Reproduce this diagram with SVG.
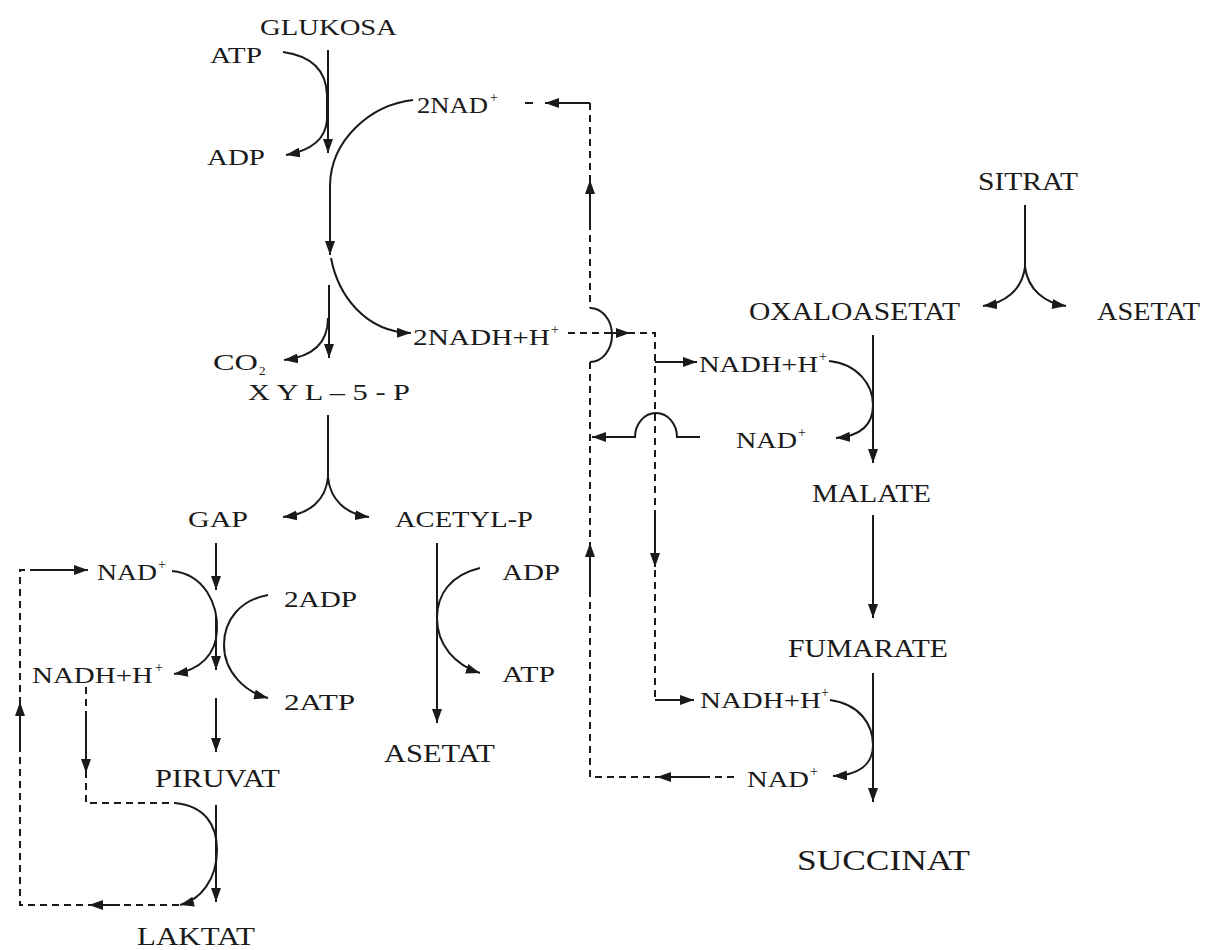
<svg xmlns="http://www.w3.org/2000/svg" width="1207" height="950" viewBox="0 0 1207 950">
<style>
text{font-family:"Liberation Serif","Times New Roman",serif;fill:#1a1a1a;font-size:23px}
.b{font-size:25px}
.xl{font-size:30px}
.sup{font-size:14px}
.s{fill:none;stroke:#1a1a1a;stroke-width:2}
.d{fill:none;stroke:#1a1a1a;stroke-width:2;stroke-dasharray:7,5}
.a{marker-end:url(#ah)}
</style>
<defs>
<marker id="ah" viewBox="0 0 14 10" markerWidth="14" markerHeight="10" refX="14" refY="5" orient="auto" markerUnits="userSpaceOnUse">
<path d="M0,0 L14,5 L0,10 z" fill="#1a1a1a"/>
</marker>
</defs>
<rect width="1207" height="950" fill="#fff"/>
<g id="connectors">
<path class="s a" d="M328,50 L328,153"/>
<path class="s a" d="M283,52 Q326,58 327,95 L327,120 Q325,148 286,155"/>
<path class="s a" d="M413,100 C370,105 331,140 330,185 L330,255"/>
<path class="s a" d="M331,258 C338,295 365,332 411,333"/>
<path class="s a" d="M329,285 L329,358"/>
<path class="s a" d="M328,318 C328,345 310,357 284,360"/>
<path class="s" d="M328,415 L328,477"/>
<path class="s a" d="M328,477 C326,500 310,514 283,517"/>
<path class="s a" d="M328,477 C330,500 346,514 369,517"/>
<path class="s a" d="M216,543 L216,590"/>
<path class="s a" d="M172,571 C205,574 218,605 217,630 C216,655 200,670 174,674"/>
<path class="s a" d="M216,615 L216,670"/>
<path class="s a" d="M268,595 C240,600 224,620 224,645 C224,672 245,692 268,698"/>
<path class="s a" d="M216,698 L216,752"/>
<path class="s a" d="M216,805 L216,902"/>
<path class="s a" d="M175,803 C205,806 217,825 217,850 C217,880 200,900 180,905"/>
<path class="d" d="M86,687 L86,803 L175,803"/>
<path class="s a" d="M86,713 L86,773"/>
<path class="d" d="M179,905 L20,905 L20,570 L35,570"/>
<path class="s a" d="M120,905 L89,905"/>
<path class="s a" d="M20,747 L20,702"/>
<path class="s a" d="M35,570 L88,570"/>
<path class="s a" d="M437,543 L437,723"/>
<path class="s a" d="M480,568 C450,575 437,595 437,618 C437,645 455,665 480,673"/>
<path class="s" d="M1025,205 L1025,267"/>
<path class="s a" d="M1025,267 C1022,290 1005,303 983,306"/>
<path class="s a" d="M1025,267 C1028,290 1045,303 1066,306"/>
<path class="s a" d="M873,335 L873,463"/>
<path class="s a" d="M829,361 C858,364 873,385 873,405 C873,425 860,436 836,438"/>
<path class="s a" d="M873,515 L873,618"/>
<path class="s a" d="M873,673 L873,802"/>
<path class="s a" d="M830,700 C860,704 873,725 873,745 C873,765 858,775 833,776"/>
<path class="s" d="M525,103 L533,103"/>
<path class="s a" d="M590,103 L545,103"/>
<path class="d" d="M590,103 L590,308"/>
<path class="s a" d="M590,230 L590,180"/>
<path class="s" d="M590,308 A22,27 0 0 1 590,362"/>
<path class="d" d="M590,362 L590,777 L735,777"/>
<path class="s a" d="M590,597 L590,543"/>
<path class="s a" d="M703,777 L657,777"/>
<path class="d" d="M568,333 L655,333 L655,700"/>
<path class="s a" d="M608,333 L630,333"/>
<path class="s a" d="M655,513 L655,567"/>
<path class="s a" d="M655,362 L697,362"/>
<path class="s a" d="M655,700 L694,700"/>
<path class="s a" d="M700,437 L677,437 A21,24 0 0 0 635,437 L592,437"/>
</g>
<g id="n-glukosa"><text x="260" y="35" textLength="137" lengthAdjust="spacingAndGlyphs">GLUKOSA</text></g>
<g id="n-atp1"><text x="210" y="63" textLength="52" lengthAdjust="spacingAndGlyphs">ATP</text></g>
<g id="n-adp1"><text x="207" y="165" textLength="58" lengthAdjust="spacingAndGlyphs">ADP</text></g>
<g id="n-2nad"><text x="417" y="113" textLength="71" lengthAdjust="spacingAndGlyphs">2NAD</text><text class="sup" x="490" y="102">+</text></g>
<g id="n-2nadh"><text x="413" y="345" textLength="137" lengthAdjust="spacingAndGlyphs">2NADH+H</text><text class="sup" x="551" y="334">+</text></g>
<g id="n-co2"><text x="213" y="370" textLength="45" lengthAdjust="spacingAndGlyphs">CO</text><text x="259" y="375" style="font-size:13px">2</text></g>
<g id="n-xyl"><text x="248" y="400" textLength="162" lengthAdjust="spacingAndGlyphs">X Y L – 5 - P</text></g>
<g id="n-gap"><text x="188" y="527" textLength="60" lengthAdjust="spacingAndGlyphs">GAP</text></g>
<g id="n-acetylp"><text x="395" y="527" textLength="138" lengthAdjust="spacingAndGlyphs">ACETYL-P</text></g>
<g id="n-nad-l"><text x="97" y="580" textLength="60" lengthAdjust="spacingAndGlyphs">NAD</text><text class="sup" x="158" y="569">+</text></g>
<g id="n-2adp"><text x="284" y="607" textLength="73" lengthAdjust="spacingAndGlyphs">2ADP</text></g>
<g id="n-nadh-l"><text x="32" y="683" textLength="121" lengthAdjust="spacingAndGlyphs">NADH+H</text><text class="sup" x="155" y="672">+</text></g>
<g id="n-2atp"><text x="284" y="710" textLength="71" lengthAdjust="spacingAndGlyphs">2ATP</text></g>
<g id="n-piruvat"><text class="b" x="155" y="787" textLength="125" lengthAdjust="spacingAndGlyphs">PIRUVAT</text></g>
<g id="n-laktat"><text class="b" x="137" y="945" textLength="118" lengthAdjust="spacingAndGlyphs">LAKTAT</text></g>
<g id="n-adp2"><text x="502" y="580" textLength="58" lengthAdjust="spacingAndGlyphs">ADP</text></g>
<g id="n-atp2"><text x="502" y="682" textLength="53" lengthAdjust="spacingAndGlyphs">ATP</text></g>
<g id="n-asetat1"><text class="b" x="384" y="762" textLength="111" lengthAdjust="spacingAndGlyphs">ASETAT</text></g>
<g id="n-sitrat"><text class="b" x="978" y="190" textLength="100" lengthAdjust="spacingAndGlyphs">SITRAT</text></g>
<g id="n-oxalo"><text class="b" x="749" y="320" textLength="211" lengthAdjust="spacingAndGlyphs">OXALOASETAT</text></g>
<g id="n-asetat2"><text class="b" x="1097" y="320" textLength="103" lengthAdjust="spacingAndGlyphs">ASETAT</text></g>
<g id="n-nadh-r1"><text x="699" y="372" textLength="119" lengthAdjust="spacingAndGlyphs">NADH+H</text><text class="sup" x="819" y="361">+</text></g>
<g id="n-nad-r1"><text x="736" y="448" textLength="61" lengthAdjust="spacingAndGlyphs">NAD</text><text class="sup" x="798" y="437">+</text></g>
<g id="n-malate"><text class="b" x="812" y="502" textLength="119" lengthAdjust="spacingAndGlyphs">MALATE</text></g>
<g id="n-fumarate"><text class="b" x="788" y="657" textLength="160" lengthAdjust="spacingAndGlyphs">FUMARATE</text></g>
<g id="n-nadh-r2"><text x="700" y="708" textLength="121" lengthAdjust="spacingAndGlyphs">NADH+H</text><text class="sup" x="821" y="697">+</text></g>
<g id="n-nad-r2"><text x="747" y="787" textLength="62" lengthAdjust="spacingAndGlyphs">NAD</text><text class="sup" x="810" y="776">+</text></g>
<g id="n-succinat"><text class="xl" x="797" y="870" textLength="173" lengthAdjust="spacingAndGlyphs">SUCCINAT</text></g>
</svg>
